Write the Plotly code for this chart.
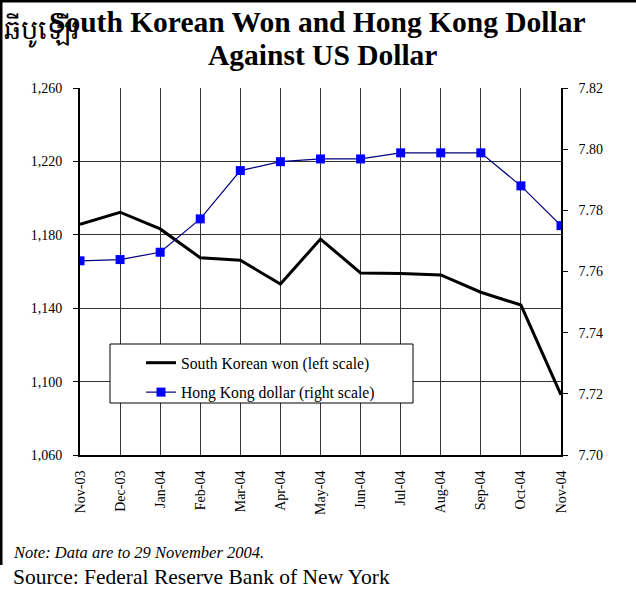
import plotly.graph_objects as go

# Monthly averages
months = ["Nov-03", "Dec-03", "Jan-04", "Feb-04", "Mar-04", "Apr-04", "May-04",
          "Jun-04", "Jul-04", "Aug-04", "Sep-04", "Oct-04", "Nov-04"]
krw = [1185.7, 1192.3, 1183.2, 1167.5, 1166.1, 1153.2, 1177.7,
       1159.2, 1158.9, 1158.1, 1148.7, 1141.7, 1092.7]
hkd = [7.7635, 7.7639, 7.7663, 7.7772, 7.7930, 7.7959, 7.7968,
       7.7968, 7.7988, 7.7988, 7.7988, 7.7880, 7.7750]

left_ticks = [1060, 1100, 1140, 1180, 1220, 1260]
right_ticks = [7.70, 7.72, 7.74, 7.76, 7.78, 7.80, 7.82]

SERIF = "Liberation Serif, Times New Roman, serif"
W, H = 636, 600
L, R, T, B = 80, 75, 88, 145
PW, PH = W - L - R, H - T - B


def px_x(x):
    return (x - L) / PW


def px_y(y):
    return (H - B - y) / PH


fig = go.Figure()

fig.add_trace(go.Scatter(
    x=months, y=krw, mode="lines", name="South Korean won (left scale)",
    line=dict(color="black", width=3), legendgroup="a",
))
fig.add_trace(go.Scatter(
    x=months, y=hkd, mode="lines+markers", name="Hong Kong dollar (right scale)",
    line=dict(color="#000080", width=1.2),
    marker=dict(symbol="square", size=9, color="#0000ff"),
    yaxis="y2", legendgroup="b",
))

# legend box drawn as a shape so it covers the grid like the original
fig.add_shape(type="rect", xref="paper", yref="paper",
              x0=px_x(110), x1=px_x(413), y0=px_y(403), y1=px_y(344),
              fillcolor="white", line=dict(color="black", width=1), layer="above")

# page frame (top and left edges)
fig.add_shape(type="line", xref="paper", yref="paper",
              x0=px_x(1), x1=px_x(1), y0=px_y(0), y1=px_y(565),
              line=dict(color="black", width=3))
fig.add_shape(type="line", xref="paper", yref="paper",
              x0=px_x(0), x1=px_x(636), y0=px_y(1), y1=px_y(1),
              line=dict(color="black", width=3))

fig.add_annotation(
    text="<b>South Korean Won and Hong Kong Dollar</b>",
    xref="paper", yref="paper", x=px_x(317.5), y=px_y(22),
    xanchor="center", yanchor="middle", showarrow=False,
    font=dict(family=SERIF, size=29.5, color="black"),
)
fig.add_annotation(
    text="<b>Against US Dollar</b>",
    xref="paper", yref="paper", x=px_x(322), y=px_y(55),
    xanchor="center", yanchor="middle", showarrow=False,
    font=dict(family=SERIF, size=29.5, color="black"),
)
fig.add_annotation(
    text="ឆីបូឡើរ", xref="paper", yref="paper", x=px_x(2), y=px_y(30),
    xanchor="left", yanchor="middle", showarrow=False,
    font=dict(size=27, color="black"),
)
fig.add_annotation(
    text="<i>Note: Data are to 29 November 2004.</i>",
    xref="paper", yref="paper", x=px_x(11), y=px_y(552),
    xanchor="left", yanchor="middle", showarrow=False,
    font=dict(family=SERIF, size=16.5, color="black"),
)
fig.add_annotation(
    text="Source: Federal Reserve Bank of New York",
    xref="paper", yref="paper", x=px_x(11), y=px_y(577),
    xanchor="left", yanchor="middle", showarrow=False,
    font=dict(family=SERIF, size=21.5, color="black"),
)

fig.update_layout(
    width=W, height=H,
    margin=dict(l=L, r=R, t=T, b=B),
    paper_bgcolor="white", plot_bgcolor="white",
    font=dict(family=SERIF, size=14, color="black"),
    showlegend=True,
    legend=dict(
        x=px_x(141), y=px_y(346), xanchor="left", yanchor="top",
        bgcolor="rgba(0,0,0,0)", borderwidth=0,
        font=dict(family=SERIF, size=15.7, color="black"),
        traceorder="grouped", tracegroupgap=6, itemwidth=30,
    ),
    xaxis=dict(
        type="category", range=[0, len(months) - 1],
        tickangle=-90, showgrid=True, gridcolor="#333", gridwidth=1,
        showline=True, linecolor="black", linewidth=2,
        ticks="", ticklabelstandoff=8, tickfont=dict(family=SERIF, size=14),
    ),
    yaxis=dict(
        range=[left_ticks[0], left_ticks[-1]], tickvals=left_ticks,
        tickformat=",", showgrid=True, gridcolor="#333", gridwidth=1,
        showline=True, linecolor="black", linewidth=2,
        ticks="outside", ticklen=5, tickcolor="black", zeroline=False,
        ticklabelstandoff=8, tickfont=dict(family=SERIF, size=14),
    ),
    yaxis2=dict(
        overlaying="y", side="right",
        range=[right_ticks[0], right_ticks[-1]], tickvals=right_ticks,
        tickformat=".2f", showgrid=False,
        showline=True, linecolor="black", linewidth=1.5,
        ticks="outside", ticklen=5, tickcolor="black", zeroline=False,
        ticklabelstandoff=8, tickfont=dict(family=SERIF, size=14),
    ),
)

fig.write_html("out.html", config={"displayModeBar": False},
               post_script="document.body.style.margin='0px';")
